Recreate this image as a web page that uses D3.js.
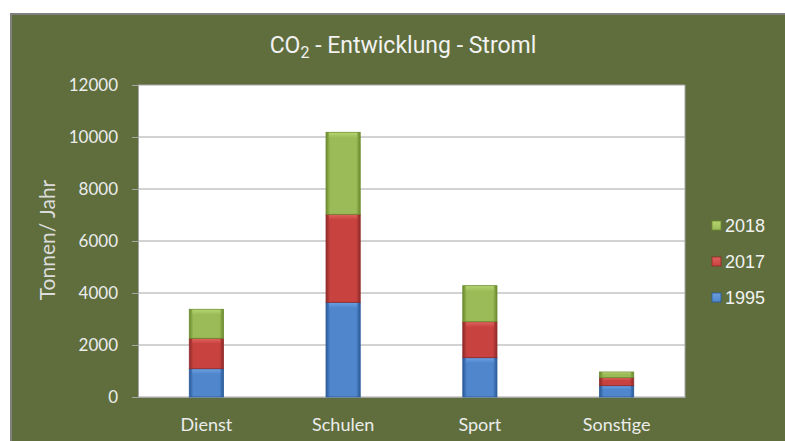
<!DOCTYPE html>
<html><head><meta charset="utf-8">
<script src="https://cdn.jsdelivr.net/npm/d3@7"></script>
<style>body{margin:0;background:#fff}svg{display:block}</style>
</head><body>
<svg id="c" width="785" height="441"></svg>
<script>
const categories = ["Dienst", "Schulen", "Sport", "Sonstige"];
const seriesNames = ["1995", "2017", "2018"];
const v1995 = [1088, 3642, 1512, 435];
const v2017 = [1170, 3385, 1384, 307];
const v2018 = [1115, 3154, 1385, 220];
const yTicks = [0, 2000, 4000, 6000, 8000, 10000, 12000];
const colors = {"1995": ["#2a5a98", "#4f86cc", "#6a9ee0"], "2017": ["#8e2a28", "#c8423f", "#de615d"], "2018": ["#6a8a2c", "#9bbb59", "#b4d46e"]};

const svg = d3.select("#c");
const W = 785, H = 441;
const plot = {l: 138, r: 685, t: 85, b: 397};
const bg = "#5f6e3c";
const txt = "#ececec";

const defs = svg.append("defs");
seriesNames.forEach(s => {
  const g = defs.append("linearGradient").attr("id", "g" + s).attr("x1", 0).attr("x2", 1).attr("y1", 0).attr("y2", 0);
  g.append("stop").attr("offset", "0").attr("stop-color", colors[s][0]);
  g.append("stop").attr("offset", "0.12").attr("stop-color", colors[s][1]);
  g.append("stop").attr("offset", "0.88").attr("stop-color", colors[s][1]);
  g.append("stop").attr("offset", "1").attr("stop-color", colors[s][0]);
  const t = defs.append("linearGradient").attr("id", "t" + s).attr("x1", 0).attr("x2", 0).attr("y1", 0).attr("y2", 1);
  t.append("stop").attr("offset", "0").attr("stop-color", colors[s][2]);
  t.append("stop").attr("offset", "1").attr("stop-color", colors[s][1]);
});

svg.append("rect").attr("x", 11).attr("y", 14).attr("width", W).attr("height", H)
  .attr("fill", bg).attr("stroke", "#808080").attr("stroke-width", 2);

// title
const title = svg.append("text").attr("x", 403).attr("y", 53).attr("text-anchor", "middle")
  .attr("fill", "#f2f2f2").style("font-family", "Roboto, sans-serif")
  .style("font-size", "23px");
title.append("tspan").text("CO");
title.append("tspan").attr("dy", 5).style("font-size", "16px").text("2");
title.append("tspan").attr("dy", -5).text(" - Entwicklung - Stroml");

// plot area
svg.append("rect").attr("x", plot.l).attr("y", plot.t).attr("width", plot.r - plot.l).attr("height", plot.b - plot.t)
  .attr("fill", "#ffffff");

const x = d3.scaleBand().domain(categories).range([plot.l, plot.r]).paddingInner(0.75).paddingOuter(0.375);
const y = d3.scaleLinear().domain([0, 12000]).range([plot.b, plot.t]);

// gridlines
svg.append("g").selectAll("line").data(yTicks).join("line")
  .attr("x1", plot.l).attr("x2", plot.r).attr("y1", d => y(d)).attr("y2", d => y(d))
  .attr("stroke", "#a6a6a6").attr("stroke-width", 1);
svg.append("line").attr("x1", plot.r).attr("x2", plot.r).attr("y1", plot.t).attr("y2", plot.b).attr("stroke", "#a6a6a6");

// y axis
const yAxis = svg.append("g").attr("transform", `translate(${plot.l},0)`)
  .call(d3.axisLeft(y).tickValues(yTicks).tickSize(6).tickPadding(14).tickFormat(d3.format("d")));
yAxis.select(".domain").attr("stroke", "#a6a6a6");
yAxis.selectAll(".tick line").attr("stroke", "#a6a6a6");
yAxis.selectAll(".tick text").attr("fill", txt).style("font-family", "Lato, sans-serif").style("font-size", "17px");

// x axis labels
const xAxis = svg.append("g").attr("transform", `translate(0,${plot.b})`)
  .call(d3.axisBottom(x).tickSize(0).tickPadding(21));
xAxis.select(".domain").attr("stroke", "#a6a6a6");
xAxis.selectAll(".tick text").attr("fill", txt).style("font-family", "Lato, sans-serif").style("font-size", "18px");

// y title
svg.append("text").attr("transform", "translate(55,240) rotate(-90)").attr("text-anchor", "middle")
  .attr("fill", "#dcdcdc").style("font-family", "Lato, sans-serif").style("font-size", "21px").text("Tonnen/ Jahr");

// stacked bars
const rows = categories.map((c, i) => ({cat: c, "1995": v1995[i], "2017": v2017[i], "2018": v2018[i]}));
const stack = d3.stack().keys(seriesNames)(rows);
const bars = svg.append("g");
stack.forEach(layer => {
  const s = layer.key;
  const g = bars.append("g");
  g.selectAll("rect.b").data(layer).join("rect").attr("class", "b")
    .attr("x", d => x(d.data.cat)).attr("width", x.bandwidth())
    .attr("y", d => y(d[1])).attr("height", d => y(d[0]) - y(d[1]))
    .attr("fill", `url(#g${s})`).attr("stroke", colors[s][0]).attr("stroke-width", 0.8);
  g.selectAll("rect.t").data(layer).join("rect").attr("class", "t")
    .attr("x", d => x(d.data.cat) + 3).attr("width", x.bandwidth() - 6)
    .attr("y", d => y(d[1]) + 0.5).attr("height", d => Math.min(5, (y(d[0]) - y(d[1])) * 0.3))
    .attr("fill", `url(#t${s})`);
});

// legend
const legendOrder = ["2018", "2017", "1995"];
const legY = d3.scalePoint().domain(legendOrder).range([226, 298]);
const leg = svg.append("g");
legendOrder.forEach(s => {
  leg.append("rect").attr("x", 712).attr("y", legY(s) - 5).attr("width", 9).attr("height", 9)
    .attr("fill", `url(#t${s})`).attr("stroke", colors[s][0]).attr("stroke-width", 0.8);
  leg.append("text").attr("x", 725).attr("y", legY(s)).attr("dy", "0.36em")
    .attr("fill", "#f2f2f2").style("font-family", "'Liberation Sans', Arial, sans-serif").style("font-size", "18px").text(s);
});
</script>
</body></html>
